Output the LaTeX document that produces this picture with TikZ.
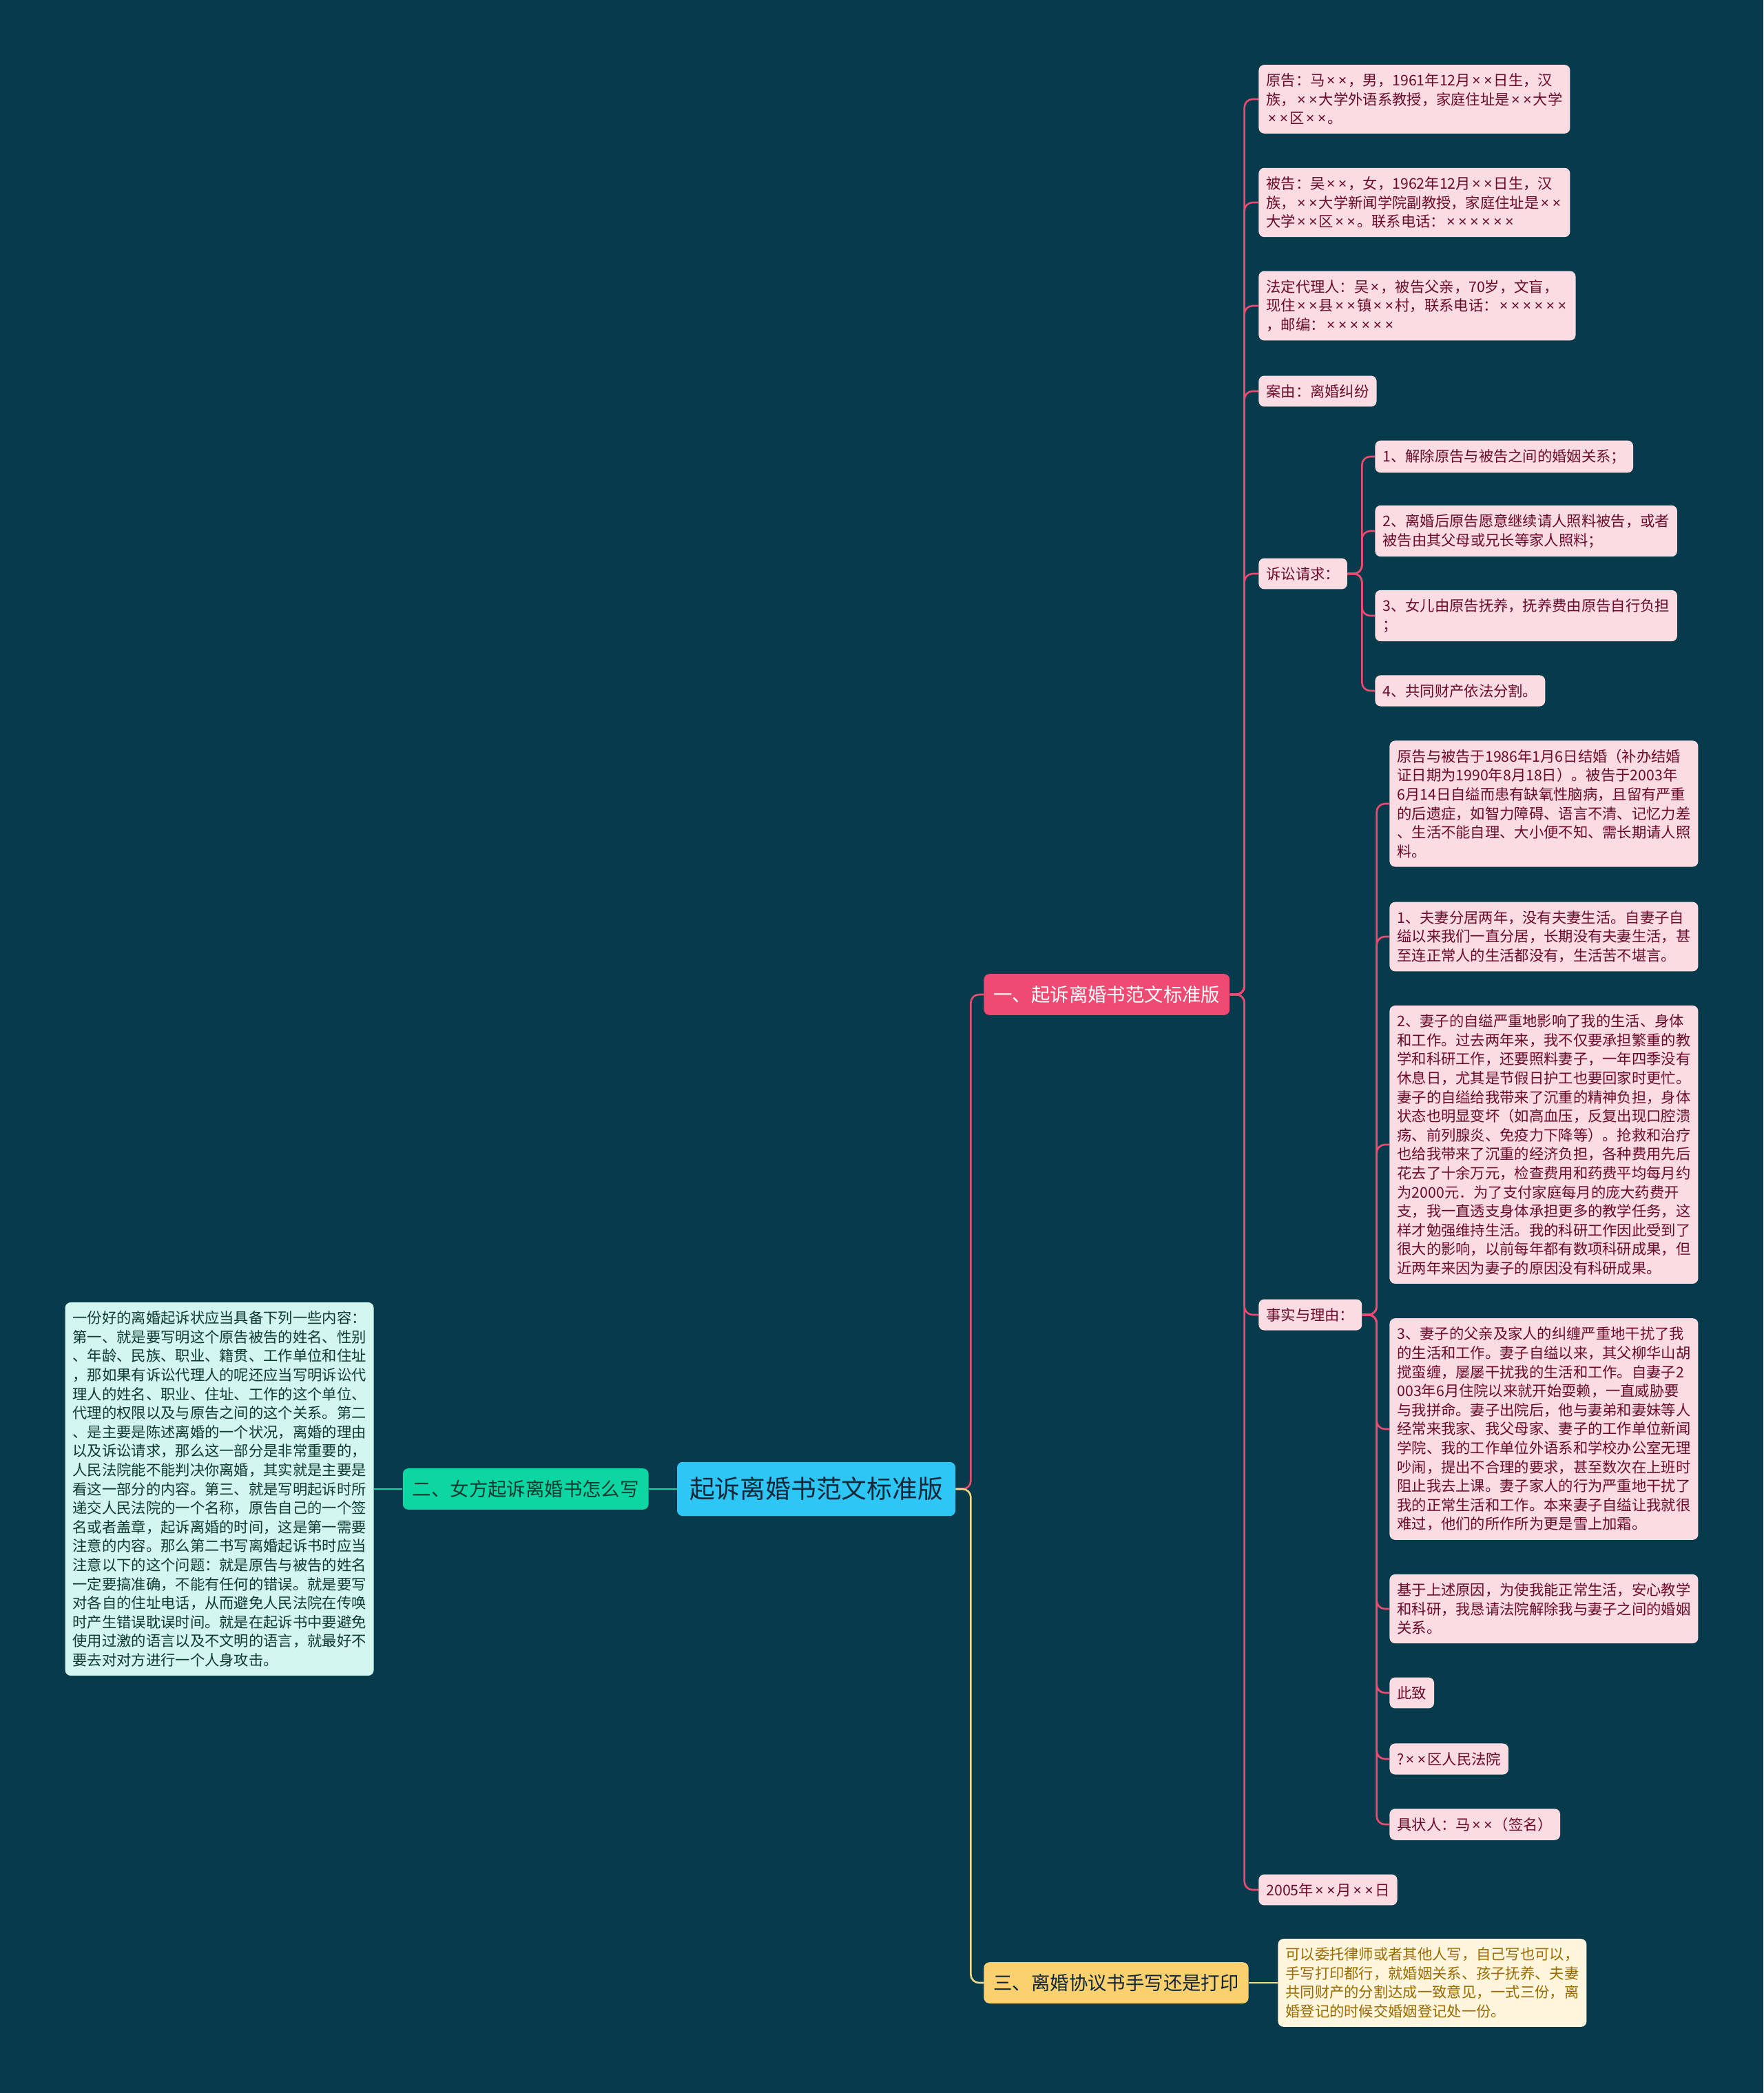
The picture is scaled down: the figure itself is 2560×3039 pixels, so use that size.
\documentclass[tikz,border=0pt]{standalone}
\usepackage{fontspec}
\usepackage{newunicodechar}
\setmainfont{Noto Sans CJK SC}
\newfontfamily\latinsans{Noto Sans}
\newunicodechar{×}{{\kern1.2pt\latinsans\symbol{"D7}\kern1.2pt}}
\usetikzlibrary{positioning}
\definecolor{mapbg}{HTML}{073A4B}
\definecolor{rootblue}{HTML}{2EC6F4}
\definecolor{roottext}{HTML}{10283A}
\definecolor{rosered}{HTML}{EE4A72}
\definecolor{rosepale}{HTML}{FCDCE3}
\definecolor{rosetext}{HTML}{6A0B2C}
\definecolor{mintgreen}{HTML}{0DD6A2}
\definecolor{mintpale}{HTML}{D3F6EE}
\definecolor{minttext}{HTML}{0E3A31}
\definecolor{sunyellow}{HTML}{FBD06E}
\definecolor{sunpale}{HTML}{FFF6DD}
\definecolor{suntext}{HTML}{9C6B00}
\definecolor{sunline}{HTML}{F3D98A}

\begin{document}
\begin{tikzpicture}[x=0.5pt, y=-0.5pt,
    root/.style={fill=rootblue, text=roottext, rounded corners=4pt,
      inner xsep=9pt, inner ysep=11pt, font=\fontsize{18.4pt}{22pt}\selectfont},
    topic/.style={rounded corners=4pt, inner xsep=7pt, inner ysep=8.5pt,
      font=\fontsize{13.7pt}{16pt}\selectfont},
    leaf/.style={rounded corners=4pt, inner xsep=5.5pt, inner ysep=6.3pt,
      align=left, font=\fontsize{10.65pt}{13.8pt}\selectfont},
    pinkleaf/.style={leaf, fill=rosepale, text=rosetext, anchor=west},
    link/.style={line width=1.3pt, rounded corners=6pt}
  ]
  \path[use as bounding box, fill=mapbg] (0,0) rectangle (2560,3039);

  \node[root] (root) at (1185,2162) {起诉离婚书范文标准版};
  \node[topic, fill=rosered, text=white, anchor=west] (sample) at (1428,1444) {一、起诉离婚书范文标准版};
  \node[topic, fill=mintgreen, text=minttext, anchor=east] (howto) at (942,2162) {二、女方起诉离婚书怎么写};
  \node[topic, fill=sunyellow, text=roottext, anchor=west] (handprint) at (1428,2879) {三、离婚协议书手写还是打印};

  \node[leaf, fill=mintpale, text=minttext, anchor=east] (guide) at (543,2162)
    {一份好的离婚起诉状应当具备下列一些内容：\\第一、就是要写明这个原告被告的姓名、性别\\、年龄、民族、职业、籍贯、工作单位和住址\\，那如果有诉讼代理人的呢还应当写明诉讼代\\理人的姓名、职业、住址、工作的这个单位、\\代理的权限以及与原告之间的这个关系。第二\\、是主要是陈述离婚的一个状况，离婚的理由\\以及诉讼请求，那么这一部分是非常重要的，\\人民法院能不能判决你离婚，其实就是主要是\\看这一部分的内容。第三、就是写明起诉时所\\递交人民法院的一个名称，原告自己的一个签\\名或者盖章，起诉离婚的时间，这是第一需要\\注意的内容。那么第二书写离婚起诉书时应当\\注意以下的这个问题：就是原告与被告的姓名\\一定要搞准确，不能有任何的错误。就是要写\\对各自的住址电话，从而避免人民法院在传唤\\时产生错误耽误时间。就是在起诉书中要避免\\使用过激的语言以及不文明的语言，就最好不\\要去对对方进行一个人身攻击。};
  \node[leaf, fill=sunpale, text=suntext, anchor=west] (tip) at (1855,2879)
    {可以委托律师或者其他人写，自己写也可以，\\手写打印都行，就婚姻关系、孩子抚养、夫妻\\共同财产的分割达成一致意见，一式三份，离\\婚登记的时候交婚姻登记处一份。};

  \node[pinkleaf] (plaintiff) at (1827,144) {原告：马××，男，1961年12月××日生，汉\\族，××大学外语系教授，家庭住址是××大学\\××区××。};
  \node[pinkleaf] (defendant) at (1827,294) {被告：吴××，女，1962年12月××日生，汉\\族，××大学新闻学院副教授，家庭住址是××\\大学××区××。联系电话：××××××};
  \node[pinkleaf] (agent) at (1827,444) {法定代理人：吴×，被告父亲，70岁，文盲，\\现住××县××镇××村，联系电话：××××××\\，邮编：××××××};
  \node[pinkleaf] (cause) at (1827,568) {案由：离婚纠纷};
  \node[pinkleaf] (claims) at (1827,833) {诉讼请求：};
  \node[pinkleaf] (facts) at (1827,1909) {事实与理由：};
  \node[pinkleaf] (dated) at (1827,2744) {2005年××月××日};

  \node[pinkleaf] (claimA) at (1996,663) {1、解除原告与被告之间的婚姻关系；};
  \node[pinkleaf] (claimB) at (1996,771) {2、离婚后原告愿意继续请人照料被告，或者\\被告由其父母或兄长等家人照料；};
  \node[pinkleaf] (claimC) at (1996,894) {3、女儿由原告抚养，抚养费由原告自行负担\\；};
  \node[pinkleaf] (claimD) at (1996,1003) {4、共同财产依法分割。};

  \node[pinkleaf] (factA) at (2017,1167) {原告与被告于1986年1月6日结婚（补办结婚\\证日期为1990年8月18日）。被告于2003年\\6月14日自缢而患有缺氧性脑病，且留有严重\\的后遗症，如智力障碍、语言不清、记忆力差\\、生活不能自理、大小便不知、需长期请人照\\料。};
  \node[pinkleaf] (factB) at (2017,1360) {1、夫妻分居两年，没有夫妻生活。自妻子自\\缢以来我们一直分居，长期没有夫妻生活，甚\\至连正常人的生活都没有，生活苦不堪言。};
  \node[pinkleaf] (factC) at (2017,1662) {2、妻子的自缢严重地影响了我的生活、身体\\和工作。过去两年来，我不仅要承担繁重的教\\学和科研工作，还要照料妻子，一年四季没有\\休息日，尤其是节假日护工也要回家时更忙。\\妻子的自缢给我带来了沉重的精神负担，身体\\状态也明显变坏（如高血压，反复出现口腔溃\\疡、前列腺炎、免疫力下降等）。抢救和治疗\\也给我带来了沉重的经济负担，各种费用先后\\花去了十余万元，检查费用和药费平均每月约\\为2000元．为了支付家庭每月的庞大药费开\\支，我一直透支身体承担更多的教学任务，这\\样才勉强维持生活。我的科研工作因此受到了\\很大的影响，以前每年都有数项科研成果，但\\近两年来因为妻子的原因没有科研成果。};
  \node[pinkleaf] (factD) at (2017,2075) {3、妻子的父亲及家人的纠缠严重地干扰了我\\的生活和工作。妻子自缢以来，其父柳华山胡\\搅蛮缠，屡屡干扰我的生活和工作。自妻子2\\003年6月住院以来就开始耍赖，一直威胁要\\与我拼命。妻子出院后，他与妻弟和妻妹等人\\经常来我家、我父母家、妻子的工作单位新闻\\学院、我的工作单位外语系和学校办公室无理\\吵闹，提出不合理的要求，甚至数次在上班时\\阻止我去上课。妻子家人的行为严重地干扰了\\我的正常生活和工作。本来妻子自缢让我就很\\难过，他们的所作所为更是雪上加霜。};
  \node[pinkleaf] (factE) at (2017,2336) {基于上述原因，为使我能正常生活，安心教学\\和科研，我恳请法院解除我与妻子之间的婚姻\\关系。};
  \node[pinkleaf] (factF) at (2017,2458) {此致};
  \node[pinkleaf] (factG) at (2017,2554) {?××区人民法院};
  \node[pinkleaf] (factH) at (2017,2649) {具状人：马××（签名）};

  \draw[link, rosered] (root.east) -- ++(22,0) |- (sample.west);
  \draw[link, sunline] (root.east) -- ++(22,0) |- (handprint.west);
  \draw[link, mintgreen] (root.west) -- (howto.east);
  \draw[link, mintgreen] (howto.west) -- (guide.east);
  \draw[link, sunline] (handprint.east) -- (tip.west);
  \foreach \n in {plaintiff, defendant, agent, cause, claims, facts, dated}
    \draw[link, rosered] (sample.east) -- ++(21,0) |- (\n.west);
  \foreach \n in {claimA, claimB, claimC, claimD}
    \draw[link, rosered] (claims.east) -- ++(21,0) |- (\n.west);
  \foreach \n in {factA, factB, factC, factD, factE, factF, factG, factH}
    \draw[link, rosered] (facts.east) -- ++(21,0) |- (\n.west);
\end{tikzpicture}
\end{document}
